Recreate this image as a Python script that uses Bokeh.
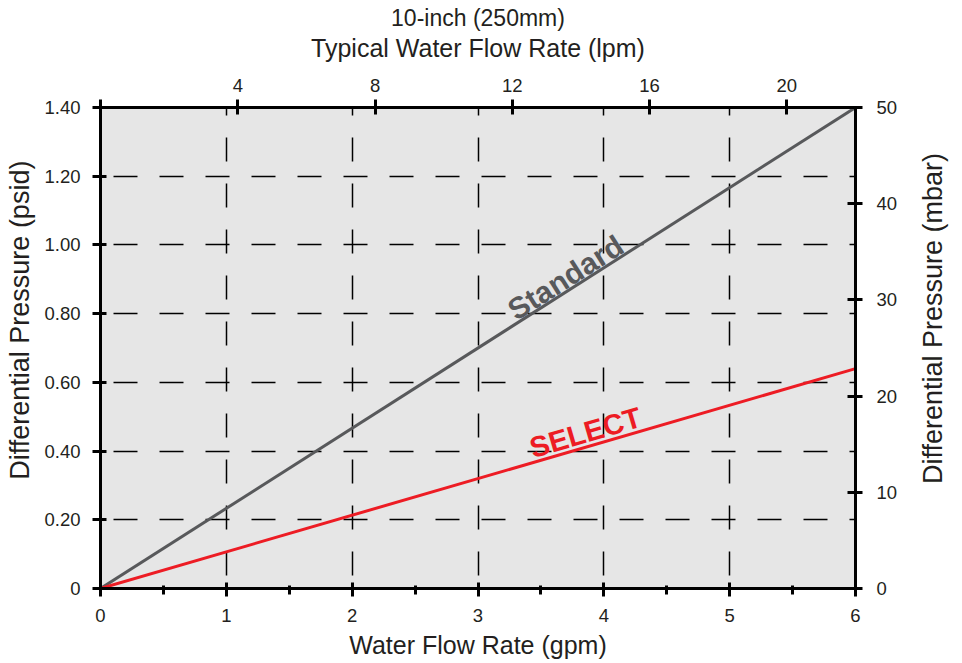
import math
from bokeh.plotting import figure
from bokeh.models import LinearAxis, Range1d, FixedTicker, Label
from bokeh.core.properties import value
from bokeh.embed import file_html
from bokeh.resources import INLINE

# ---- data ----
flow_gpm = [0, 6]
standard_psid = [0, 1.40]
select_psid = [0, 0.64]

gpm_ticks = [0, 1, 2, 3, 4, 5, 6]
gpm_minor = [0.5, 1.5, 2.5, 3.5, 4.5, 5.5]
psid_ticks = [0, 0.2, 0.4, 0.6, 0.8, 1.0, 1.2, 1.4]
psid_labels = ["0", "0.20", "0.40", "0.60", "0.80", "1.00", "1.20", "1.40"]
lpm_ticks = [0, 4, 8, 12, 16, 20]
lpm_labels = ["", "4", "8", "12", "16", "20"]
mbar_ticks = [0, 10, 20, 30, 40, 50]
grid_gpm = [1, 2, 3, 4, 5]
grid_psid = [0.2, 0.4, 0.6, 0.8, 1.0, 1.2]

FONT = "Liberation Sans"
INK = "#231f20"

p = figure(frame_width=755, frame_height=481,
           x_range=Range1d(0, 6), y_range=Range1d(0, 1.4),
           output_backend="svg", toolbar_location=None,
           min_border_left=100, min_border_right=105,
           min_border_top=107, min_border_bottom=74,
           background_fill_color="#e6e6e6", border_fill_color="white",
           outline_line_color=None)

p.extra_x_ranges = {"lpm": Range1d(0, 22)}
p.extra_y_ranges = {"mbar": Range1d(0, 50)}

p.title.text = "10-inch (250mm)"
p.title.align = "center"
p.title.text_font = FONT
p.title.text_font_size = "23px"
p.title.text_font_style = "normal"
p.title.text_color = INK
p.title.standoff = 0


def style(ax, tin, tout, lstand, astand, lsize):
    ax.axis_line_width = 3
    ax.axis_line_color = "black"
    ax.major_tick_line_width = 3
    ax.major_tick_line_color = "black"
    ax.major_tick_in = tin
    ax.major_tick_out = tout
    ax.minor_tick_line_width = 3
    ax.minor_tick_line_color = "black"
    ax.minor_tick_in = 3
    ax.minor_tick_out = 6
    ax.major_label_text_font = FONT
    ax.major_label_text_font_size = "18.5px"
    ax.major_label_text_color = INK
    ax.major_label_standoff = lstand
    ax.axis_label_text_font = FONT
    ax.axis_label_text_font_size = lsize
    ax.axis_label_text_font_style = "normal"
    ax.axis_label_text_color = INK
    ax.axis_label_standoff = astand


xa = p.xaxis[0]
xa.ticker = FixedTicker(ticks=gpm_ticks, minor_ticks=gpm_minor)
xa.axis_label = "Water Flow Rate (gpm)"
style(xa, 6, 8, 12, 6, "25px")

ya = p.yaxis[0]
ya.ticker = FixedTicker(ticks=psid_ticks)
ya.major_label_overrides = dict(zip(psid_ticks, psid_labels))
style(ya, 6, 8, 12, 5, "27px")

top = LinearAxis(x_range_name="lpm", ticker=FixedTicker(ticks=lpm_ticks),
                 axis_label="Typical Water Flow Rate (lpm)")
top.major_label_overrides = dict(zip(lpm_ticks, lpm_labels))
style(top, 7, 8, 8, 14, "25px")
p.add_layout(top, "above")

right = LinearAxis(y_range_name="mbar", ticker=FixedTicker(ticks=mbar_ticks))
style(right, 8, 7, 14, 17, "27px")
p.add_layout(right, "right")

# vertical axis titles, both reading bottom-to-top
for side, lx, ly, txt in (("left", -0.636, 0.781, "Differential Pressure (psid)"),
                          ("right", 6.612, 0.786, "Differential Pressure (mbar)")):
    p.add_layout(Label(x=lx, y=ly, text=txt, angle=math.pi / 2,
                       text_align="center", text_baseline="middle",
                       text_font=FONT, text_font_size="27px",
                       text_color=INK), side)

p.xgrid.ticker = FixedTicker(ticks=grid_gpm)
p.ygrid.ticker = FixedTicker(ticks=grid_psid)
for g in (p.xgrid[0], p.ygrid[0]):
    g.grid_line_color = "black"
    g.grid_line_width = 1.5
    g.grid_line_dash = "24 22"
    g.grid_line_dash_offset = 33

p.line(flow_gpm, standard_psid, line_color="#58595b", line_width=3)
p.line(flow_gpm, select_psid, line_color="#ed1c24", line_width=3)

p.text(x=[3.695], y=[0.905], text=["Standard"], angle=math.radians(32.5),
       text_font=value(FONT), text_font_style="bold",
       text_font_size=value("30px"),
       text_color="#58595b", text_align="center", text_baseline="middle")
p.text(x=[3.854], y=[0.454], text=["SELECT"], angle=math.radians(16.3),
       text_font=value(FONT), text_font_style="bold",
       text_font_size=value("29px"),
       text_color="#ed1c24", text_align="center", text_baseline="middle")

open("out.html", "w").write(file_html(p, INLINE))
